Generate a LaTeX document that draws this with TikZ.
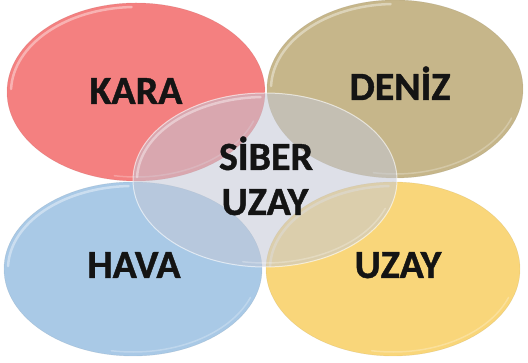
\documentclass[tikz,border=0pt]{standalone}
\usepackage{fontspec}
\setmainfont{Carlito}
\newfontfamily\lblfont[FakeBold=1]{Carlito Bold}
\usetikzlibrary{shapes.geometric,calc}
\definecolor{cred}{HTML}{F48080}
\definecolor{cole}{HTML}{C6B68A}
\definecolor{cblu}{HTML}{A9C9E6}
\definecolor{cyel}{HTML}{F9D67A}
\definecolor{cgry}{HTML}{C4C8D6}
\tikzset{
  blob/.style={ellipse, inner sep=0pt, minimum width=#1},
  lbl/.style={anchor=base, font=\lblfont\fontsize{40}{44}\selectfont, text=black!92, inner sep=0pt},
  gloss/.style={white, opacity=0.4, line width=2.5pt, line cap=round},
}
\newcommand{\glossarc}[3]{% node, rx, ry
  \draw[gloss] ($(#1.center)+(178:#2pt and #3pt)$) arc[start angle=178, end angle=92, x radius=#2pt, y radius=#3pt];
  \draw[gloss, opacity=0.25, line width=1.5pt] ($(#1.center)+(-100:#2pt and #3pt)$) arc[start angle=-100, end angle=-20, x radius=#2pt, y radius=#3pt];
}
\begin{document}
\begin{tikzpicture}[x=1pt,y=1pt]
\useasboundingbox (0,0) rectangle (528,363);
\fill[white] (0,0) rectangle (528,363);
% colored ellipses
\node[blob=258pt, minimum height=178pt, fill=cred, draw=cred!80!black, draw opacity=0.35] (red) at (136,271) {};
\node[blob=256pt, minimum height=178pt, fill=cole, draw=cole!80!black, draw opacity=0.35] (ole) at (395,274) {};
\node[blob=258pt, minimum height=174pt, fill=cblu, draw=cblu!80!black, draw opacity=0.35] (blu) at (133,94) {};
\node[blob=254pt, minimum height=174pt, fill=cyel, draw=cyel!80!black, draw opacity=0.35] (yel) at (393,94) {};
\glossarc{red}{125}{85}
\glossarc{ole}{124}{85}
\glossarc{blu}{125}{83}
\glossarc{yel}{123}{83}
% center translucent ellipse
\node[blob=264pt, minimum height=174pt, fill=cgry, fill opacity=0.55, draw=white, draw opacity=0.6, line width=1pt] (cen) at (265,183) {};
\glossarc{cen}{128}{83}
% labels
\node[lbl] (tkara) at (136,259) {KARA};
\node[lbl] (tdeniz) at (400,263) {DENİZ};
\node[lbl] (thava) at (134,85) {HAVA};
\node[lbl] (tuzay) at (398,85) {UZAY};
\node[lbl] (tsiber) at (266,193) {SİBER};
\node[lbl] (tsuzay) at (265,148) {UZAY};
\end{tikzpicture}
\end{document}
